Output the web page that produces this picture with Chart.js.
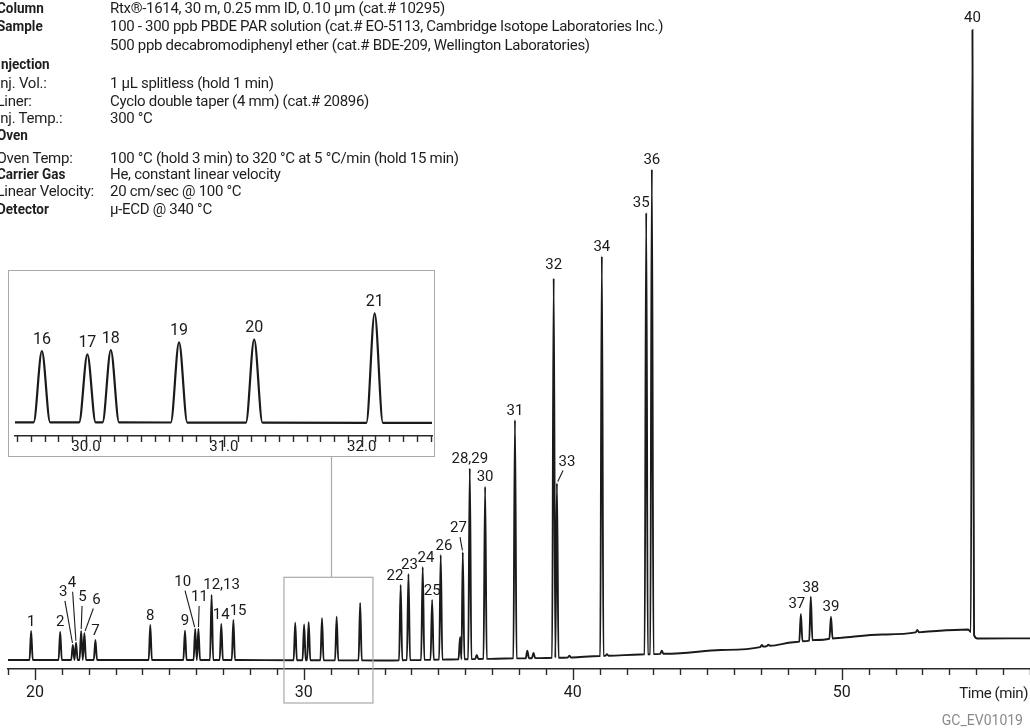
<!DOCTYPE html>
<html lang="en">
<head>
<meta charset="UTF-8" />
<title>PBDE chromatogram GC_EV01019</title>
<script src="https://cdn.jsdelivr.net/npm/chart.js@4.4.0/dist/chart.umd.min.js"></script>
<style>
  body {
    margin: 0;
    padding: 0;
    background: #fff;
    width: 1030px;
    height: 728px;
    overflow: hidden;
    position: relative;
    font-family: Roboto, 'Liberation Sans', sans-serif;
    color: #1e1e1e;
  }
  #main { position: absolute; left: 0; top: 0; }
  #info { position: absolute; left: 0; top: 0; font-size: 15px; line-height: 18px; }
  #info .row { position: absolute; left: 0; height: 18px; white-space: nowrap; }
  #info .k { position: absolute; left: -3.5px; letter-spacing: -0.25px; }
  #info b.k { display: inline-block; transform: scaleX(0.9); transform-origin: left center; letter-spacing: 0; }
  #info .v { position: absolute; left: 110px; letter-spacing: -0.3px; }
  #inset {
    position: absolute; left: 8px; top: 270px; width: 427px; height: 187px;
    box-sizing: border-box; border: 1px solid #a9a9a9; background: #fff;
  }
  #inset canvas { display: block; }
  .note { position: absolute; white-space: nowrap; line-height: 18px; }
</style>
</head>
<body>
<canvas id="main" width="1030" height="728"></canvas>

<div id="info">
  <div class="row" style="top:-0.75px"><b class="k">Column</b><span class="v">Rtx®-1614, 30 m, 0.25 mm ID, 0.10 µm (cat.# 10295)</span></div>
  <div class="row" style="top:17.25px"><b class="k">Sample</b><span class="v">100 - 300 ppb PBDE PAR solution (cat.# EO-5113, Cambridge Isotope Laboratories Inc.)</span></div>
  <div class="row" style="top:35.75px"><span class="v">500 ppb decabromodiphenyl ether (cat.# BDE-209, Wellington Laboratories)</span></div>
  <div class="row" style="top:54.75px"><b class="k">Injection</b></div>
  <div class="row" style="top:74.25px"><span class="k">Inj. Vol.:</span><span class="v">1 µL splitless (hold 1 min)</span></div>
  <div class="row" style="top:91.75px"><span class="k">Liner:</span><span class="v">Cyclo double taper (4 mm) (cat.# 20896)</span></div>
  <div class="row" style="top:108.75px"><span class="k">Inj. Temp.:</span><span class="v">300 °C</span></div>
  <div class="row" style="top:126px"><b class="k">Oven</b></div>
  <div class="row" style="top:148.75px"><span class="k">Oven Temp:</span><span class="v">100 °C (hold 3 min) to 320 °C at 5 °C/min (hold 15 min)</span></div>
  <div class="row" style="top:165.25px"><b class="k">Carrier Gas</b><span class="v">He, constant linear velocity</span></div>
  <div class="row" style="top:182.25px"><span class="k">Linear Velocity:</span><span class="v">20 cm/sec @ 100 °C</span></div>
  <div class="row" style="top:200.25px"><b class="k">Detector</b><span class="v">µ-ECD @ 340 °C</span></div>
</div>

<div id="inset"><canvas id="zoom" width="425" height="185"></canvas></div>

<div class="note" style="right:2px; top:684px; font-size:15px; letter-spacing:-0.4px;">Time (min)</div>
<div class="note" style="right:7px; top:711px; font-size:14px; color:#8a8a8a;">GC_EV01019</div>

<script>
// retention time (min) and detector signal at each peak apex
const peakTimes = [19.86, 20.94, 21.41, 21.53, 21.72, 21.84, 22.25, 24.29, 25.58, 25.96,
  26.08, 26.57, 26.93, 27.38, 29.68, 30.01, 30.18, 30.675, 31.22, 32.094,
  33.60, 33.89, 34.42, 34.77, 35.09, 35.81, 35.91, 36.17, 36.43, 36.74,
  37.85, 38.31, 38.54, 39.29, 39.41, 39.87, 41.08, 41.27, 42.73, 42.94,
  43.31, 47.03, 47.27, 48.48, 48.85, 49.60, 52.81, 54.86]
const peakHeights = [5.95, 5.84, 3.76, 4.10, 5.95, 5.63, 4.54, 6.89, 5.99, 6.26,
  6.26, 11.58, 7.04, 7.67, 7.23, 6.96, 7.32, 7.95, 8.20, 10.34,
  13.15, 14.87, 15.96, 10.80, 17.84, 5.0, 18.26, 31.4, 2.19, 28.53,
  38.97, 2.86, 2.50, 61.14, 29.06, 2.10, 64.6, 2.30, 71.4, 78.2,
  2.86, 3.75, 3.80, 8.6, 11.3, 8.18, 6.1, 100]
const peakLabels = ['1', '2', '3', '4', '5', '6', '7', '8', '9', '10',
  '11', '12,13', '14', '15', '16', '17', '18', '19', '20', '21',
  '22', '23', '24', '25', '26', '', '27', '28,29', '', '30',
  '31', '', '', '32', '33', '', '34', '', '35', '36',
  '', '', '', '37', '38', '39', '', '40']

// drifting baseline between the peaks
const baseTimes = [19.0, 27.5, 33.0, 35.5, 37.5, 39.0, 40.0, 41.0, 42.5, 44.0,
  45.5, 47.0, 48.3, 49.0, 50.0, 51.5, 53.0, 54.7, 55.05, 57.0]
const baseValues = [1.41, 1.41, 1.33, 1.49, 1.64, 1.72, 1.80, 2.03, 2.27, 2.46,
  2.97, 3.44, 4.23, 4.54, 4.90, 5.40, 5.79, 6.18, 4.77, 4.80]

const mainTickLabels = ['20', '30', '40', '50']
const zoomTickLabels = ['30.0', '31.0', '32.0']
const zoomWindow = [29.26, 32.57]
const connectorTime = 31.0

const PEAK_HALF_WIDTH = 0.06
const INK = '#1a1a1a'
const FONT = "Roboto, 'Liberation Sans', sans-serif"

// label placement (px from apex) for labels that do not sit straight above their peak
const labelOffsets = {
  '3': [-9.5, -53], '4': [-4, -60], '5': [1.2, -34], '6': [12, -33],
  '10': [-12.5, -47], '11': [1, -32], '27': [-4.4, -24], '33': [10, -21],
  '12,13': [10, -10], '15': [4.7, -8.5], '22': [-5.7, -8.5], '23': [1, -9],
  '24': [3.3, -9], '26': [3.3, -8.5], '32': [0, -13], '35': [-5, -9.5],
  '37': [-4, -10], '40': [0, -12],
}
const leaderLabels = ['3', '4', '5', '6', '10', '11', '27', '33']

const baselineAt = (t) => {
  for (let i = 1; i < baseTimes.length; i++) {
    if (t <= baseTimes[i]) {
      const f = (t - baseTimes[i - 1]) / (baseTimes[i] - baseTimes[i - 1])
      return baseValues[i - 1] + f * (baseValues[i] - baseValues[i - 1])
    }
  }
  return baseValues[baseValues.length - 1]
}

// baseline knots + foot/apex/foot of each peak; close pairs share one valley point
const buildTrace = () => {
  const w = PEAK_HALF_WIDTH
  const pts = []
  baseTimes.forEach((t, i) => {
    if (!peakTimes.some((p) => Math.abs(p - t) < w)) pts.push({ x: t, y: baseValues[i] })
  })
  peakTimes.forEach((t, i) => {
    const prev = peakTimes[i - 1]
    const next = peakTimes[i + 1]
    let left = t - w
    let right = t + w
    if (prev !== undefined && prev + w > left) left = null
    if (next !== undefined && next - w < right) right = (t + next) / 2
    if (left !== null) pts.push({ x: left, y: baselineAt(left) })
    pts.push({ x: t, y: peakHeights[i] })
    if (right !== null) pts.push({ x: right, y: baselineAt(right) })
  })
  return pts.sort((a, b) => a.x - b.x)
}

const trace = buildTrace()

const tickMarks = {
  id: 'tickMarks',
  afterDraw(chart, args, opts) {
    const { ctx } = chart
    const xs = chart.scales.x
    ctx.save()
    ctx.strokeStyle = '#2a2a2a'
    ctx.lineWidth = 1.4
    xs.ticks.forEach((tk) => {
      const px = Math.round(xs.getPixelForValue(tk.value)) + 0.5
      const len = opts.isMajor(tk.value) ? opts.major : opts.minor
      ctx.beginPath()
      ctx.moveTo(px, xs.top)
      ctx.lineTo(px, xs.top + len)
      ctx.stroke()
    })
    ctx.restore()
  },
}

const peakNames = {
  id: 'peakNames',
  afterDatasetsDraw(chart, args, opts) {
    const { ctx } = chart
    const xs = chart.scales.x
    const ys = chart.scales.y
    ctx.save()
    ctx.font = opts.font
    ctx.fillStyle = INK
    ctx.strokeStyle = INK
    ctx.lineWidth = 1.1
    ctx.textAlign = 'center'
    ctx.textBaseline = 'middle'
    peakLabels.forEach((lab, i) => {
      if (!lab || !opts.show(peakTimes[i])) return
      const px = xs.getPixelForValue(peakTimes[i])
      const py = ys.getPixelForValue(peakHeights[i])
      const off = (opts.useOffsets && labelOffsets[lab]) || [0, opts.dy]
      const lx = px + off[0]
      const ly = py + off[1]
      ctx.fillText(lab, lx, ly)
      if (opts.useOffsets && leaderLabels.includes(lab)) {
        const dx = px - lx
        const dy = py - ly
        const d = Math.hypot(dx, dy)
        ctx.beginPath()
        ctx.moveTo(lx + (dx / d) * 9, ly + (dy / d) * 9)
        ctx.lineTo(px - (dx / d) * 2, py - (dy / d) * 2)
        ctx.stroke()
      }
    })
    ctx.restore()
  },
}

const zoomFrame = {
  id: 'zoomFrame',
  afterDatasetsDraw(chart) {
    const { ctx } = chart
    const xs = chart.scales.x
    const ys = chart.scales.y
    const x1 = xs.getPixelForValue(zoomWindow[0])
    const x2 = xs.getPixelForValue(zoomWindow[1])
    const yTop = ys.getPixelForValue(14.35)
    const yBot = xs.top + 34
    const inset = document.getElementById('inset')
    const insetBottom = inset.offsetTop + inset.offsetHeight
    ctx.save()
    ctx.strokeStyle = '#a9a9a9'
    ctx.lineWidth = 1.2
    ctx.strokeRect(x1, yTop, x2 - x1, yBot - yTop)
    const cx = Math.round(xs.getPixelForValue(connectorTime)) + 0.5
    ctx.beginPath()
    ctx.moveTo(cx, insetBottom)
    ctx.lineTo(cx, yTop)
    ctx.stroke()
    ctx.restore()
  },
}

const fixAxis = (height) => (scale) => {
  scale.height = height
  scale.paddingLeft = 0
  scale.paddingRight = 0
}

new Chart(document.getElementById('main').getContext('2d'), {
  type: 'line',
  data: {
    datasets: [{
      data: trace,
      borderColor: INK,
      borderWidth: 1.9,
      pointRadius: 0,
      cubicInterpolationMode: 'monotone',
    }],
  },
  options: {
    responsive: false,
    animation: false,
    devicePixelRatio: 1,
    layout: { autoPadding: false, padding: { left: 8, right: 0, top: 0, bottom: 0 } },
    plugins: {
      legend: { display: false },
      tooltip: { enabled: false },
      tickMarks: { minor: 6, major: 11, isMajor: (v) => mainTickLabels.includes(String(v)) },
      peakNames: {
        font: '15px ' + FONT,
        dy: -9,
        useOffsets: true,
        show: (t) => t < zoomWindow[0] || t > zoomWindow[1],
      },
    },
    scales: {
      x: {
        type: 'linear',
        min: 19,
        max: 57,
        afterFit: fixAxis(59),
        grid: { display: false, drawTicks: false },
        border: { display: true, color: '#2a2a2a', width: 1.5 },
        ticks: {
          stepSize: 1,
          autoSkip: false,
          maxRotation: 0,
          includeBounds: false,
          padding: 14,
          color: INK,
          font: { size: 16, family: FONT },
          callback: (v) => (mainTickLabels.includes(String(v)) ? String(v) : ''),
        },
      },
      y: { display: false, min: 0, max: 104.7 },
    },
  },
  plugins: [tickMarks, peakNames, zoomFrame],
})

new Chart(document.getElementById('zoom').getContext('2d'), {
  type: 'line',
  data: {
    datasets: [{
      data: trace,
      borderColor: INK,
      borderWidth: 2.2,
      pointRadius: 0,
      cubicInterpolationMode: 'monotone',
    }],
  },
  options: {
    responsive: false,
    animation: false,
    devicePixelRatio: 1,
    layout: { autoPadding: false, padding: { left: 6, right: 2, top: 0, bottom: 0 } },
    plugins: {
      legend: { display: false },
      tooltip: { enabled: false },
      tickMarks: { minor: 6, major: 11, isMajor: (v) => Math.abs(v - Math.round(v)) < 1e-6 && zoomTickLabels.includes(v.toFixed(1)) },
      peakNames: {
        font: '16px ' + FONT,
        dy: -11,
        useOffsets: false,
        show: (t) => t > 29.485 && t < 32.51,
      },
    },
    scales: {
      x: {
        type: 'linear',
        min: 29.485,
        max: 32.51,
        afterFit: fixAxis(20),
        grid: { display: false, drawTicks: false },
        border: { display: true, color: '#2a2a2a', width: 1.5 },
        ticks: {
          stepSize: 0.1,
          autoSkip: false,
          maxRotation: 0,
          includeBounds: false,
          padding: 2,
          color: INK,
          font: { size: 15, family: FONT },
          callback: (v) => {
            const s = v.toFixed(1)
            return Math.abs(v - Math.round(v)) < 1e-6 && zoomTickLabels.includes(s) ? s : ''
          },
        },
      },
      y: { display: false, min: 0.257, max: 13.82 },
    },
  },
  plugins: [tickMarks, peakNames],
})
</script>
</body>
</html>
